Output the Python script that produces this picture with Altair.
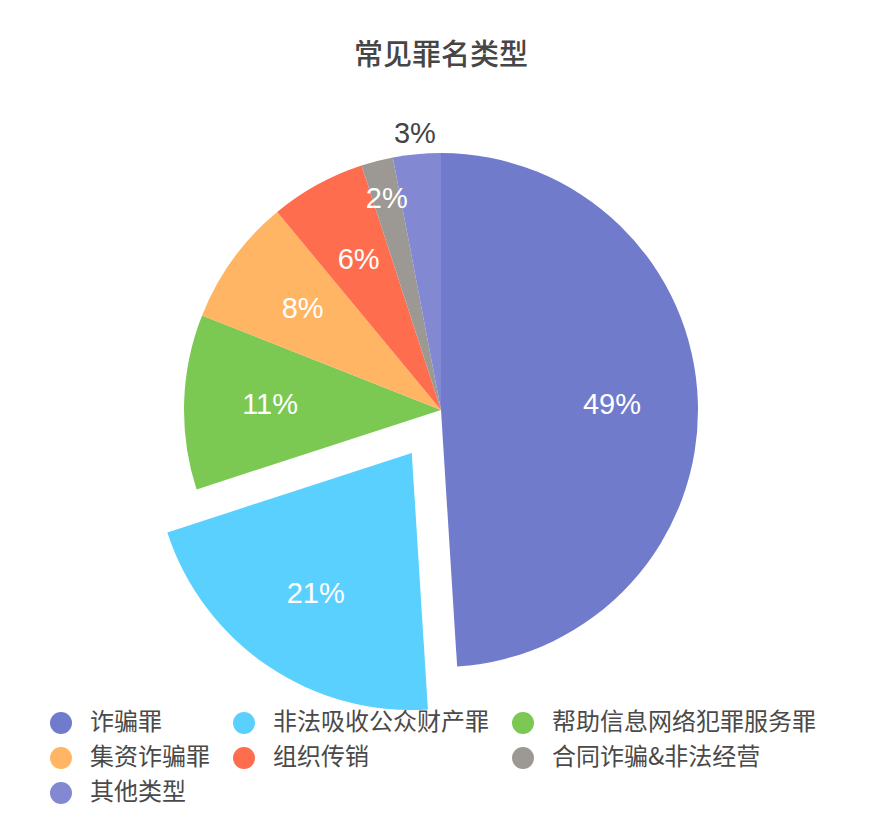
import math
import altair as alt
import pandas as pd

# ---- data ----
names = ["诈骗罪", "非法吸收公众财产罪", "帮助信息网络犯罪服务罪", "集资诈骗罪",
         "组织传销", "合同诈骗&非法经营", "其他类型"]
values = [49, 21, 11, 8, 6, 2, 3]
colors = ["#717bcc", "#5ad0ff", "#7bc852", "#ffb563", "#ff6d4f", "#9c9893", "#8289d2"]
exploded = ["非法吸收公众财产罪"]

# ---- style / layout constants ----
CX, CY = 433, 322          # pie centre in plot coordinates
R = 257                    # outer radius
EXPLODE = 52               # offset of the exploded slice
LABEL_R = 171              # default label radius
LABEL_R_OVERRIDE = {"合同诈骗&非法经营": 218, "其他类型": 277}
OUTSIDE = {"其他类型"}

total = sum(values)
rows = []
acc = 0.0
for n, v in zip(names, values):
    start = acc / total * 100
    acc += v
    end = acc / total * 100
    mid = (start + end) / 2 / 100 * 2 * math.pi
    off = EXPLODE if n in exploded else 0
    cx = CX + off * math.sin(mid)
    cy = CY - off * math.cos(mid)
    lr = LABEL_R_OVERRIDE.get(n, LABEL_R)
    rows.append({
        "name": n, "value": v, "start": start, "end": end,
        "cx": cx, "cy": cy,
        "lx": cx + lr * math.sin(mid), "ly": cy - lr * math.cos(mid),
        "label": f"{round(v / total * 100)}%",
        "lcolor": "#444444" if n in OUTSIDE else "#ffffff",
    })
df = pd.DataFrame(rows)

base = alt.Chart(df)

arcs = base.mark_arc(outerRadius=R, stroke=None).encode(
    x=alt.X("cx:Q", scale=None),
    y=alt.Y("cy:Q", scale=None),
    theta=alt.Theta("start:Q", scale=alt.Scale(domain=[0, 100], range=[0, 2 * math.pi])),
    theta2="end:Q",
    color=alt.Color(
        "name:N",
        sort=names,
        scale=alt.Scale(domain=names, range=colors),
        legend=alt.Legend(
            title=None, orient="none", legendX=41, legendY=623,
            direction="horizontal", columns=3, symbolType="circle", symbolSize=484,
            symbolStrokeWidth=0, labelFontSize=24, labelFont="Noto Sans CJK SC",
            labelColor="#4a4a4a", labelOffset=17, columnPadding=22,
            rowPadding=11, labelLimit=400,
        ),
    ),
)

labels = base.mark_text(
    font="Liberation Sans", fontSize=29, align="center", baseline="middle"
).encode(
    x=alt.X("lx:Q", scale=None),
    y=alt.Y("ly:Q", scale=None),
    text="label:N",
    color=alt.Color("lcolor:N", scale=None),
)

chart = alt.layer(arcs, labels).properties(
    width=860, height=740,
    padding={"left": 0, "top": 80, "right": 0, "bottom": 0},
    autosize=alt.AutoSizeParams(type="none"),
    title=alt.TitleParams(
        "常见罪名类型", anchor="middle", fontSize=29, font="Noto Sans CJK SC",
        fontWeight=500, color="#464646", offset=17, dx=3,
    ),
    background="white",
).configure_view(stroke=None)

chart.save("out.html", embed_options={"renderer": "svg", "actions": False})
